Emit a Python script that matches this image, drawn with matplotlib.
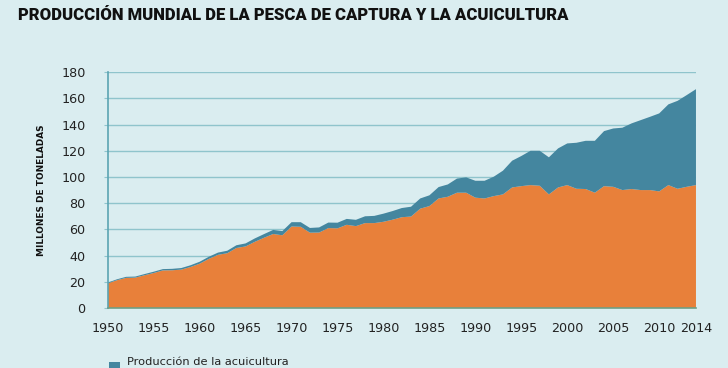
import numpy as np
import matplotlib
matplotlib.use("Agg")
import matplotlib.pyplot as plt
from matplotlib.patches import Rectangle

# Datos (millones de toneladas)
years = list(range(1950, 2015))
captura = [18.8, 21.2, 23.0, 23.2, 25.0, 26.7, 28.7, 28.8, 29.3, 31.3,
           33.8, 37.5, 40.6, 41.8, 45.8, 47.0, 50.5, 53.6, 56.5, 55.5,
           62.2, 62.0, 57.5, 57.6, 61.0, 60.8, 63.5, 62.5, 64.8, 64.8,
           65.8, 67.4, 69.3, 69.8, 75.8, 77.8, 83.6, 84.9, 88.0, 88.0,
           84.2, 83.6, 85.4, 86.7, 92.0, 93.0, 93.8, 93.3, 86.7, 92.0,
           93.8, 91.0, 90.8, 88.0, 93.0, 92.5, 90.0, 90.8, 90.0, 90.0,
           89.0, 93.8, 91.0, 92.5, 93.8]
acuicultura = [0.6, 0.7, 0.8, 0.8, 0.9, 1.0, 1.0, 1.1, 1.2, 1.3,
               1.5, 1.6, 1.7, 1.9, 2.1, 2.3, 2.6, 2.8, 3.1, 3.2,
               3.3, 3.5, 3.6, 3.9, 4.2, 4.3, 4.5, 4.8, 5.2, 5.5,
               6.2, 6.6, 7.0, 7.5, 7.8, 8.2, 8.7, 9.4, 10.8, 11.7,
               12.9, 13.5, 14.8, 18.1, 20.4, 23.0, 26.2, 26.7, 28.3, 29.8,
               31.8, 35.1, 36.8, 39.6, 42.0, 44.5, 47.6, 50.1, 53.4, 55.9,
               59.5, 61.6, 67.1, 70.0, 73.2]
xticks = [1950, 1955, 1960, 1965, 1970, 1975, 1980, 1985, 1990, 1995,
          2000, 2005, 2010, 2014]
yticks = list(range(0, 181, 20))

BG = "#daedf0"
ORANGE = "#e8803a"
TEAL = "#44869f"
GRID = "#8fc4cc"
AXIS = "#5ba4b2"

fig = plt.figure(figsize=(7.28, 3.68), dpi=100, facecolor=BG)
ax = fig.add_axes([0.148, 0.163, 0.808, 0.641], facecolor=BG)

ax.stackplot(years, captura, acuicultura, colors=[ORANGE, TEAL], linewidth=0)

ax.set_xlim(1950, 2014)
ax.set_ylim(0, 180)
ax.set_yticks(yticks)
ax.set_xticks(xticks)
ax.grid(axis="y", color=GRID, linewidth=1.0)
ax.set_axisbelow(True)

for s in ["top", "right"]:
    ax.spines[s].set_visible(False)
ax.spines["left"].set_color(AXIS)
ax.spines["left"].set_linewidth(1.2)
ax.spines["bottom"].set_color("#6f9f84")
ax.spines["bottom"].set_linewidth(1.2)

ax.tick_params(axis="y", length=3, color=GRID, pad=13, labelsize=9.2, labelcolor="#222222")
ax.tick_params(axis="x", length=0, pad=10, labelsize=9.2, labelcolor="#222222")

ax.set_ylabel("MILLONES DE TONELADAS", fontsize=6.4, fontweight="bold", labelpad=11,
              color="#111111")

title = fig.text(18 / 728, 1 - 15 / 368,
                 "PRODUCCIÓN MUNDIAL DE LA PESCA DE CAPTURA Y LA ACUICULTURA",
                 fontsize=14, fontweight=900, family=["Roboto", "DejaVu Sans"],
                 va="center", ha="left", color="#111111")
# ajustar el tamaño para que ocupe el mismo ancho que el original (~548 px)
fig.canvas.draw()
w = title.get_window_extent().width
title.set_fontsize(14 * 548 / w)

# leyenda (en el borde inferior)
fig.patches.append(Rectangle((109 / 728, 0), 11 / 728, 6 / 368, transform=fig.transFigure,
                             facecolor=TEAL, edgecolor="none"))
fig.text(127 / 728, 1 / 368, "Producción de la acuicultura", fontsize=8.2, va="bottom",
         ha="left", color="#222222")

fig.savefig("out.png", dpi=100, facecolor=BG)
